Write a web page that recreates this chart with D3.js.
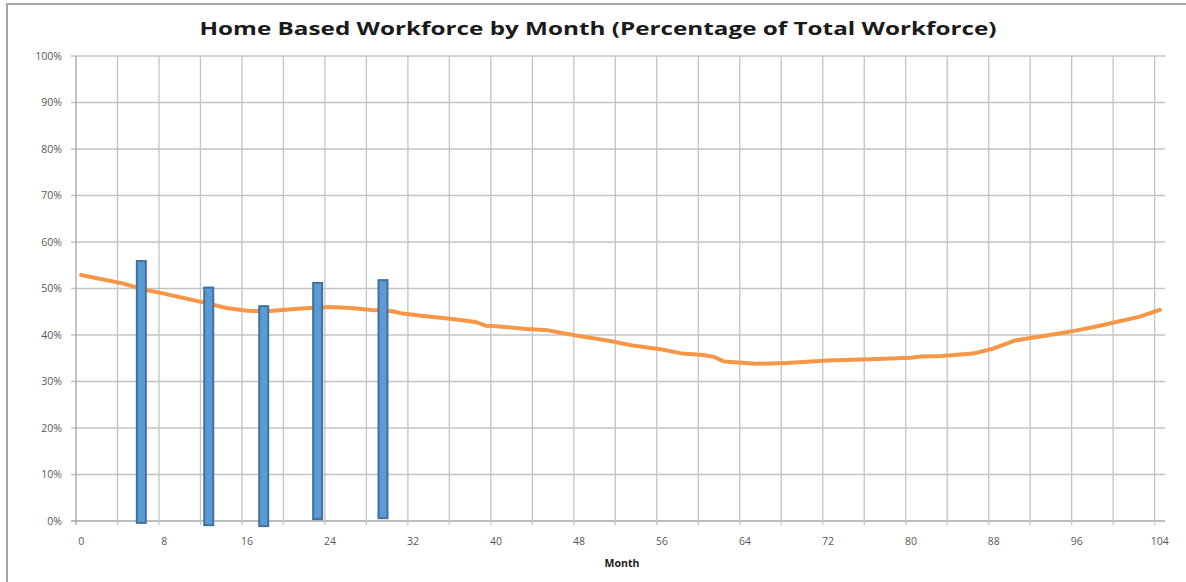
<!DOCTYPE html>
<html>
<head>
<meta charset="utf-8">
<script src="https://cdn.jsdelivr.net/npm/d3@7"></script>
<style>
  body { margin: 0; background: #fff; }
  svg { display: block; }
</style>
</head>
<body>
<svg id="chart"></svg>
<script>
// line series: home based share of workforce by month
const lineMonths = [0, 2, 4, 6, 8, 10, 12, 14, 16, 18, 20, 22, 24, 26, 28, 30, 31, 33, 36, 38, 39, 40, 43, 45, 48, 50, 51, 53, 56, 58, 60, 61, 62, 64, 65, 68, 72, 76, 80, 81, 83, 86, 88, 90, 92, 94, 96, 98, 100, 102, 104];
const lineValues = [52.9, 52.0, 51.1, 49.8, 48.9, 47.9, 46.9, 45.8, 45.2, 45.1, 45.5, 45.8, 46.0, 45.8, 45.4, 45.1, 44.6, 44.1, 43.4, 42.8, 42.0, 41.9, 41.3, 41.0, 39.8, 39.1, 38.7, 37.8, 36.9, 36.0, 35.7, 35.3, 34.3, 34.0, 33.8, 34.0, 34.5, 34.8, 35.1, 35.4, 35.5, 36.0, 37.1, 38.8, 39.5, 40.2, 41.0, 41.9, 42.9, 43.9, 45.4];

// survey bars (month, low, high)
const barMonths = [5.8, 12.3, 17.6, 22.8, 29.1];
const barLow = [-0.4, -0.9, -1.1, 0.4, 0.6];
const barHigh = [55.9, 50.2, 46.2, 51.2, 51.8];

const yTicks = [0, 10, 20, 30, 40, 50, 60, 70, 80, 90, 100];
const xTicks = [0, 8, 16, 24, 32, 40, 48, 56, 64, 72, 80, 88, 96, 104];
const xGrid = d3.range(0, 105, 4);

const title = 'Home Based Workforce by Month (Percentage of Total Workforce)';
const xTitle = 'Month';

const W = 1186, H = 582;
const plotL = 76, plotR = 1165, plotT = 56, plotB = 521;

const svg = d3.select('#chart').attr('width', W).attr('height', H);

// frame
svg.append('rect')
  .attr('x', 7).attr('y', 4)
  .attr('width', 1190).attr('height', 600)
  .attr('fill', '#fff')
  .attr('stroke', '#a6a6a6')
  .attr('stroke-width', 2);

// categories 0..104, each one unit wide
const x = d3.scaleLinear().domain([0, 105]).range([plotL, plotR]);
const y = d3.scaleLinear().domain([0, 100]).range([plotB, plotT]);

// gridlines
svg.append('g')
  .selectAll('line')
  .data(yTicks)
  .join('line')
  .attr('x1', plotL - 5).attr('x2', plotR)
  .attr('y1', d => y(d)).attr('y2', d => y(d))
  .attr('stroke', d => d === 0 ? '#a6a6a6' : '#c4c4c4')
  .attr('stroke-width', 1.3);

svg.append('g')
  .selectAll('line')
  .data(xGrid)
  .join('line')
  .attr('x1', d => x(d)).attr('x2', d => x(d))
  .attr('y1', plotT).attr('y2', plotB + 4)
  .attr('stroke', d => d === 0 ? '#a6a6a6' : '#c4c4c4')
  .attr('stroke-width', 1.3);

// y labels
svg.append('g')
  .selectAll('text')
  .data(yTicks)
  .join('text')
  .attr('x', 62)
  .attr('y', d => y(d))
  .attr('dy', '0.35em')
  .attr('text-anchor', 'end')
  .attr('font-family', 'Open Sans, sans-serif')
  .attr('font-size', 10.5)
  .attr('fill', '#595959')
  .text(d => d + '%');

// x labels, centred on category
svg.append('g')
  .selectAll('text')
  .data(xTicks)
  .join('text')
  .attr('x', d => x(d + 0.5))
  .attr('y', 541)
  .attr('dy', '0.35em')
  .attr('text-anchor', 'middle')
  .attr('font-family', 'Open Sans, sans-serif')
  .attr('font-size', 10.5)
  .attr('fill', '#595959')
  .text(d => d);

// orange line
const lineData = lineMonths.map((m, i) => ({ m: m, v: lineValues[i] }));
const line = d3.line()
  .x(d => x(d.m + 0.5))
  .y(d => y(d.v));

svg.append('path')
  .datum(lineData)
  .attr('fill', 'none')
  .attr('stroke', '#f79646')
  .attr('stroke-width', 4)
  .attr('stroke-linejoin', 'round')
  .attr('stroke-linecap', 'round')
  .attr('d', line);

// blue bars
const barW = 9;
svg.append('g')
  .selectAll('rect')
  .data(barMonths)
  .join('rect')
  .attr('x', (d, i) => x(d + 0.5) - barW / 2)
  .attr('y', (d, i) => y(barHigh[i]))
  .attr('width', barW)
  .attr('height', (d, i) => y(barLow[i]) - y(barHigh[i]))
  .attr('fill', '#5b9bd5')
  .attr('stroke', '#41719c')
  .attr('stroke-width', 2);

// titles
svg.append('text')
  .attr('x', 598)
  .attr('y', 35)
  .attr('text-anchor', 'middle')
  .attr('font-family', 'Open Sans, sans-serif')
  .attr('font-weight', 700)
  .attr('font-size', 18.5)
  .attr('textLength', 797)
  .attr('lengthAdjust', 'spacingAndGlyphs')
  .attr('fill', '#1a1a1a')
  .text(title);

svg.append('text')
  .attr('x', 622)
  .attr('y', 567)
  .attr('text-anchor', 'middle')
  .attr('font-family', 'Open Sans, sans-serif')
  .attr('font-weight', 700)
  .attr('font-size', 10.5)
  .attr('fill', '#1a1a1a')
  .text(xTitle);
</script>
</body>
</html>
